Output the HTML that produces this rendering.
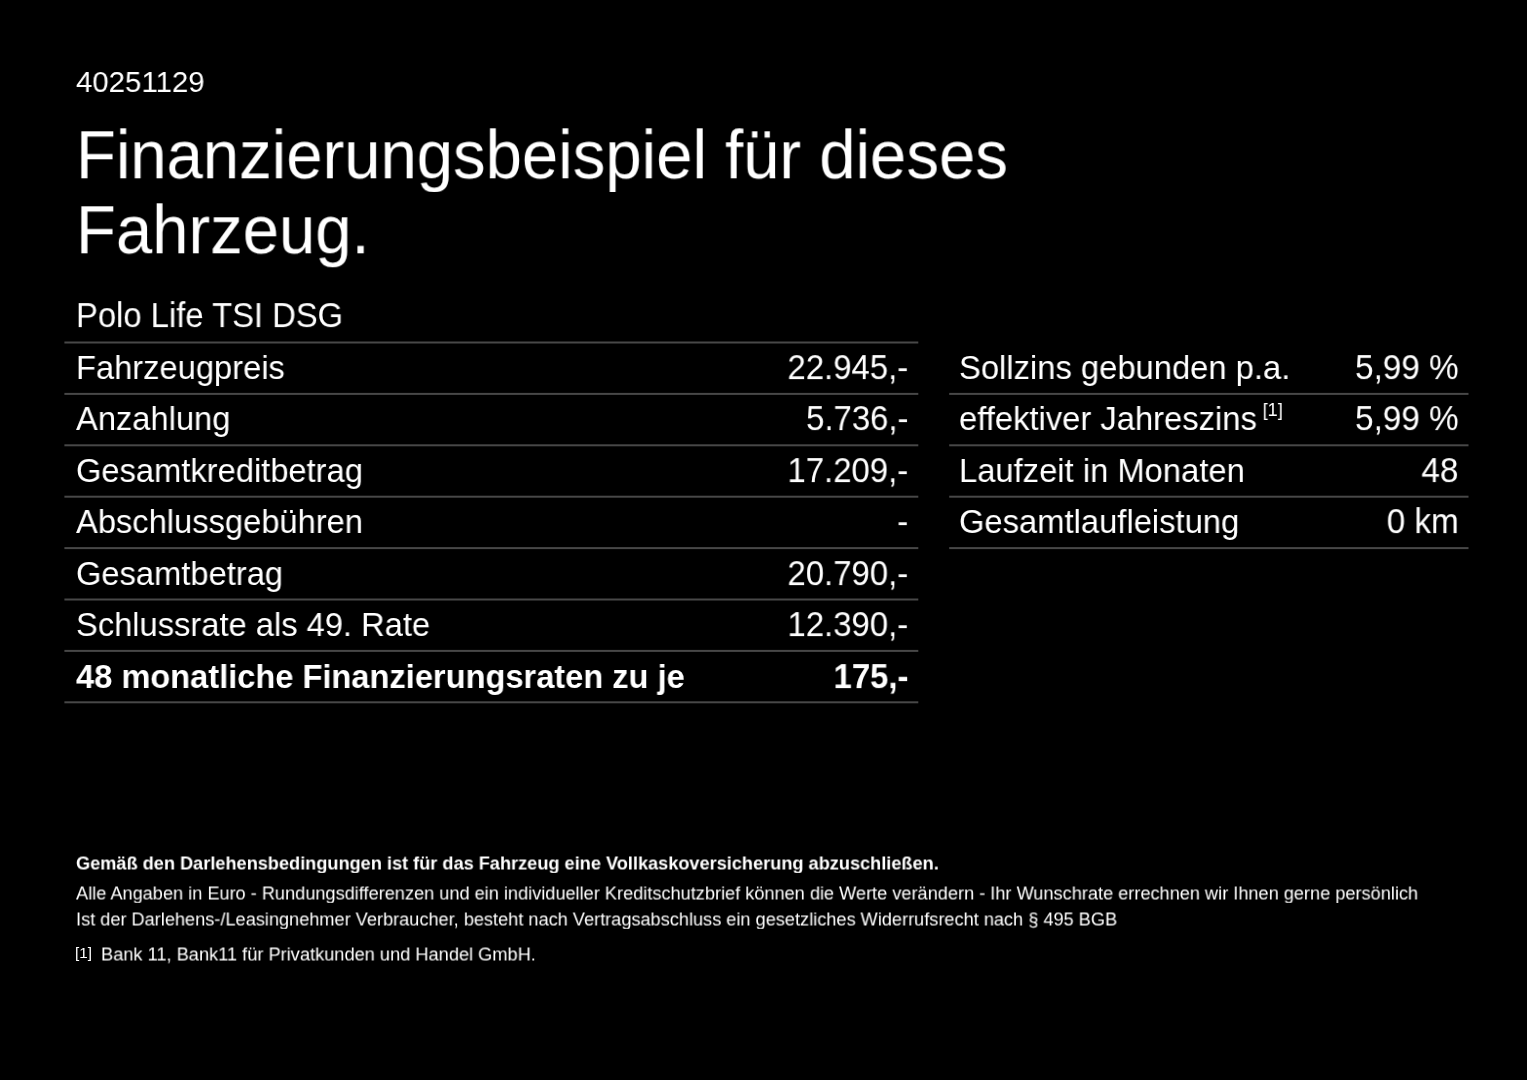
<!DOCTYPE html>
<html lang="de">
<head>
<meta charset="utf-8">
<title>Finanzierungsbeispiel</title>
<style>
html,body{margin:0;padding:0;background:#000;}
body{width:1527px;height:1080px;position:relative;overflow:hidden;font-family:"Liberation Sans",sans-serif;color:#fff;}
.t{position:absolute;white-space:nowrap;will-change:transform;}
.fn{font-size:18.5px;position:relative;top:-14px;margin-left:6px;}
svg{position:absolute;left:0;top:0;}
#page{position:absolute;left:0;top:0;width:1527px;height:1080px;background:#000;filter:blur(0.35px);}
</style>
</head>
<body>
<div id="page">
<svg width="1527" height="1080" viewBox="0 0 1527 1080">
<rect x="64.4" y="341.50" width="853.9" height="2" fill="#484848"/>
<rect x="64.4" y="392.90" width="853.9" height="2" fill="#484848"/>
<rect x="64.4" y="444.30" width="853.9" height="2" fill="#484848"/>
<rect x="64.4" y="495.70" width="853.9" height="2" fill="#484848"/>
<rect x="64.4" y="547.10" width="853.9" height="2" fill="#484848"/>
<rect x="64.4" y="598.50" width="853.9" height="2" fill="#484848"/>
<rect x="64.4" y="649.90" width="853.9" height="2" fill="#484848"/>
<rect x="64.4" y="701.30" width="853.9" height="2" fill="#484848"/>
<rect x="949.2" y="392.90" width="519.3" height="2" fill="#484848"/>
<rect x="949.2" y="444.30" width="519.3" height="2" fill="#484848"/>
<rect x="949.2" y="495.70" width="519.3" height="2" fill="#484848"/>
<rect x="949.2" y="547.10" width="519.3" height="2" fill="#484848"/>
</svg>
<div class="t" style="top:65px;font-size:30.2px;line-height:33px;height:33px;left:75.6px;transform-origin:0 27px;transform:scale(0.974,1.0);">40251129</div>
<div class="t" style="top:117px;font-size:67px;line-height:75px;height:75px;left:76.0px;transform-origin:0 61px;transform:scale(0.9735,1.012);">Finanzierungsbeispiel für dieses</div>
<div class="t" style="top:192px;font-size:67px;line-height:75px;height:75px;left:76.0px;transform-origin:0 61px;transform:scale(0.9735,1.012);">Fahrzeug.</div>
<div class="t" style="top:297px;font-size:33.6px;line-height:37px;height:37px;left:75.6px;transform-origin:0 30px;transform:scale(0.976,1.03);">Polo Life TSI DSG</div>
<div class="t" style="top:349px;font-size:33.6px;line-height:37px;height:37px;left:75.6px;transform-origin:0 30px;transform:scale(0.973,1.0);">Fahrzeugpreis</div>
<div class="t" style="top:349px;font-size:33.6px;line-height:37px;height:37px;right:618.6px;transform-origin:100% 30px;transform:scale(0.98,1.03);">22.945,-</div>
<div class="t" style="top:400px;font-size:33.6px;line-height:37px;height:37px;left:75.6px;transform-origin:0 30px;transform:scale(0.973,1.0);">Anzahlung</div>
<div class="t" style="top:400px;font-size:33.6px;line-height:37px;height:37px;right:618.6px;transform-origin:100% 30px;transform:scale(0.98,1.03);">5.736,-</div>
<div class="t" style="top:452px;font-size:33.6px;line-height:37px;height:37px;left:75.6px;transform-origin:0 30px;transform:scale(0.973,1.0);">Gesamtkreditbetrag</div>
<div class="t" style="top:452px;font-size:33.6px;line-height:37px;height:37px;right:618.6px;transform-origin:100% 30px;transform:scale(0.98,1.03);">17.209,-</div>
<div class="t" style="top:503px;font-size:33.6px;line-height:37px;height:37px;left:75.6px;transform-origin:0 30px;transform:scale(0.973,1.0);">Abschlussgebühren</div>
<div class="t" style="top:503px;font-size:33.6px;line-height:37px;height:37px;right:618.6px;transform-origin:100% 30px;transform:scale(0.98,1.03);">-</div>
<div class="t" style="top:555px;font-size:33.6px;line-height:37px;height:37px;left:75.6px;transform-origin:0 30px;transform:scale(0.973,1.0);">Gesamtbetrag</div>
<div class="t" style="top:555px;font-size:33.6px;line-height:37px;height:37px;right:618.6px;transform-origin:100% 30px;transform:scale(0.98,1.03);">20.790,-</div>
<div class="t" style="top:606px;font-size:33.6px;line-height:37px;height:37px;left:75.6px;transform-origin:0 30px;transform:scale(0.973,1.0);">Schlussrate als 49. Rate</div>
<div class="t" style="top:606px;font-size:33.6px;line-height:37px;height:37px;right:618.6px;transform-origin:100% 30px;transform:scale(0.98,1.03);">12.390,-</div>
<div class="t" style="top:658px;font-size:33.6px;line-height:37px;height:37px;left:75.6px;transform-origin:0 30px;transform:scale(0.971,1.0);font-weight:bold;">48 monatliche Finanzierungsraten zu je</div>
<div class="t" style="top:658px;font-size:33.6px;line-height:37px;height:37px;right:618.6px;transform-origin:100% 30px;transform:scale(0.98,1.03);font-weight:bold;">175,-</div>
<div class="t" style="top:349px;font-size:33.6px;line-height:37px;height:37px;left:958.5px;transform-origin:0 30px;transform:scale(0.975,1.0);">Sollzins gebunden p.a.</div>
<div class="t" style="top:349px;font-size:33.6px;line-height:37px;height:37px;right:68.4px;transform-origin:100% 30px;transform:scale(0.99,1.03);">5,99 %</div>
<div class="t" style="top:400px;font-size:33.6px;line-height:37px;height:37px;left:958.5px;transform-origin:0 30px;transform:scale(0.975,1.0);">effektiver Jahreszins<span class="fn">[1]</span></div>
<div class="t" style="top:400px;font-size:33.6px;line-height:37px;height:37px;right:68.4px;transform-origin:100% 30px;transform:scale(0.99,1.03);">5,99 %</div>
<div class="t" style="top:452px;font-size:33.6px;line-height:37px;height:37px;left:958.5px;transform-origin:0 30px;transform:scale(0.975,1.0);">Laufzeit in Monaten</div>
<div class="t" style="top:452px;font-size:33.6px;line-height:37px;height:37px;right:68.4px;transform-origin:100% 30px;transform:scale(0.99,1.03);">48</div>
<div class="t" style="top:503px;font-size:33.6px;line-height:37px;height:37px;left:958.5px;transform-origin:0 30px;transform:scale(0.975,1.0);">Gesamtlaufleistung</div>
<div class="t" style="top:503px;font-size:33.6px;line-height:37px;height:37px;right:68.4px;transform-origin:100% 30px;transform:scale(0.99,1.03);">0 km</div>
<div class="t" style="top:852px;font-size:18.6px;line-height:21px;height:21px;left:75.6px;transform-origin:0 17px;transform:scale(0.977,1.03);font-weight:bold;">Gemäß den Darlehensbedingungen ist für das Fahrzeug eine Vollkaskoversicherung abzuschließen.</div>
<div class="t" style="top:882px;font-size:18.6px;line-height:21px;height:21px;left:75.6px;transform-origin:0 17px;transform:scale(0.977,1.03);">Alle Angaben in Euro - Rundungsdifferenzen und ein individueller Kreditschutzbrief können die Werte verändern - Ihr Wunschrate errechnen wir Ihnen gerne persönlich</div>
<div class="t" style="top:908px;font-size:18.6px;line-height:21px;height:21px;left:75.6px;transform-origin:0 17px;transform:scale(0.977,1.03);">Ist der Darlehens-/Leasingnehmer Verbraucher, besteht nach Vertragsabschluss ein gesetzliches Widerrufsrecht nach § 495 BGB</div>
<div class="t" style="top:944px;font-size:15.2px;line-height:17px;height:17px;left:74.8px;transform-origin:0 14px;">[1]</div>
<div class="t" style="top:943px;font-size:18.6px;line-height:21px;height:21px;left:100.8px;transform-origin:0 17px;transform:scale(0.98,1.03);">Bank 11, Bank11 für Privatkunden und Handel GmbH.</div>
</div>
</body>
</html>
